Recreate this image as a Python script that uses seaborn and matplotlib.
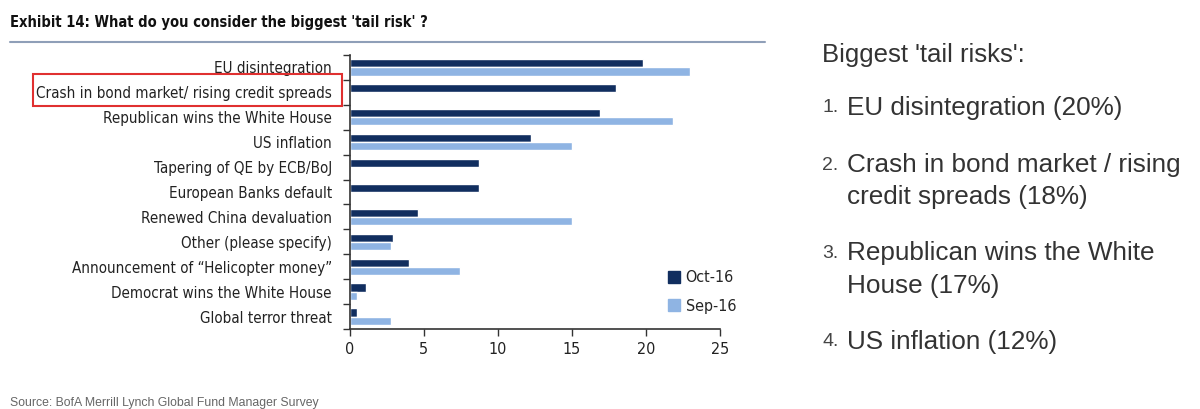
import numpy as np
import pandas as pd
import seaborn as sns
from matplotlib import pyplot as plt
from matplotlib.patches import Rectangle
from matplotlib.lines import Line2D
from matplotlib import font_manager

# Daten
risks = ["EU disintegration", "Crash in bond market/ rising credit spreads",
         "Republican wins the White House", "US inflation",
         "Tapering of QE by ECB/BoJ", "European Banks default",
         "Renewed China devaluation", "Other (please specify)",
         "Announcement of \u201cHelicopter money\u201d", "Democrat wins the White House",
         "Global terror threat"]
oct16 = [19.8, 18.0, 16.9, 12.2, 8.7, 8.7, 4.6, 2.9, 4.0, 1.1, 0.5]
sep16 = [23.0, 0.0, 21.8, 15.0, 0.0, 0.0, 15.0, 2.8, 7.4, 0.5, 2.8]
periods = ["Oct-16", "Sep-16"]
xticks = [0, 5, 10, 15, 20, 25]

summary_title = "Biggest 'tail risks':"
summary_items = [("1.", ["EU disintegration (20%)"]),
                 ("2.", ["Crash in bond market / rising", "credit spreads (18%)"]),
                 ("3.", ["Republican wins the White", "House (17%)"]),
                 ("4.", ["US inflation (12%)"])]

dark = "#112e5f"
light = "#8fb4e3"

df = pd.DataFrame({
    "risk": risks * 2,
    "value": oct16 + sep16,
    "period": [periods[0]] * len(risks) + [periods[1]] * len(risks),
})

sns.set_style("white")
plt.rcParams['font.family'] = ["Liberation Sans", "DejaVu Sans"]

fig = plt.figure(figsize=(12, 4.09), dpi=100)
ax = fig.add_axes([350 / 1200, 1 - 329 / 409, 370 / 1200, 274 / 409])

sns.barplot(data=df, y="risk", x="value", hue="period", orient="h",
            palette=[dark, light], width=0.66, ax=ax, saturation=1,
            order=risks, hue_order=periods, legend=False)

# schmale Schrift (DejaVu Sans Condensed)
ax.set_xlim(0, 25)
ax.set_ylim(10.5, -0.5)
ax.set_xticks(xticks)
ax.set_xticklabels([str(t) for t in xticks], family="DejaVu Sans", stretch="condensed",
                   fontsize=11.5, color="#222222")
ax.set_yticks(np.arange(len(risks)))
ax.set_yticklabels(risks, family="DejaVu Sans", stretch="condensed", fontsize=10.9,
                   color="#222222")
ax.set_yticks(np.arange(len(risks) + 1) - 0.5, minor=True)
ax.tick_params(axis="y", which="major", length=0, pad=13)
ax.tick_params(axis="y", which="minor", length=5, width=1, color="#333333", direction="out", left=True)
ax.tick_params(axis="x", length=5, width=1, color="#333333", direction="out", bottom=True, pad=4)
ax.set_xlabel("")
ax.set_ylabel("")
for s in ["top", "right"]:
    ax.spines[s].set_visible(False)
for s in ["left", "bottom"]:
    ax.spines[s].set_color("#333333")
    ax.spines[s].set_linewidth(1.2)

handles = [Line2D([], [], marker="s", linestyle="", markersize=9, color=c) for c in [dark, light]]
leg_font = font_manager.FontProperties(family="DejaVu Sans", stretch="condensed", size=11.5)
leg = ax.legend(handles, periods, loc="center left", bbox_to_anchor=(0.855, 0.135), frameon=False,
                prop=leg_font, handletextpad=0.2, labelspacing=0.85, handlelength=1.0,
                borderpad=0, borderaxespad=0)

# Titel und Linie
fig.text(10 / 1200, 1 - 22 / 409, "Exhibit 14: What do you consider the biggest 'tail risk' ?",
         family="DejaVu Sans", stretch="condensed", fontweight="bold", fontsize=10.5,
         color="#111111", va="center")
fig.add_artist(Line2D([10 / 1200, 765 / 1200], [1 - 42 / 409, 1 - 42 / 409],
                      color="#8f9fb8", linewidth=1.5))

# roter Rahmen um die zweite Kategorie
fig.add_artist(Rectangle((33 / 1200, 1 - 106 / 409), 309 / 1200, 32 / 409,
                         fill=False, edgecolor="#e03030", linewidth=1.5))

fig.text(10 / 1200, 1 - 403 / 409, "Source: BofA Merrill Lynch Global Fund Manager Survey",
         fontsize=8.8, color="#666666", va="center")

# Textblock rechts
fig.text(822 / 1200, 1 - 55 / 409, summary_title, fontsize=18.5, color="#333333", va="center")
ys = [[108], [165, 197], [253, 286], [342]]
for (num, lines), yy in zip(summary_items, ys):
    fig.text(822 / 1200, 1 - yy[0] / 409, num, fontsize=14, color="#444444", va="center")
    for line, y in zip(lines, yy):
        fig.text(847 / 1200, 1 - y / 409, line, fontsize=18.8, color="#333333", va="center")

fig.savefig("out.png", dpi=100)
